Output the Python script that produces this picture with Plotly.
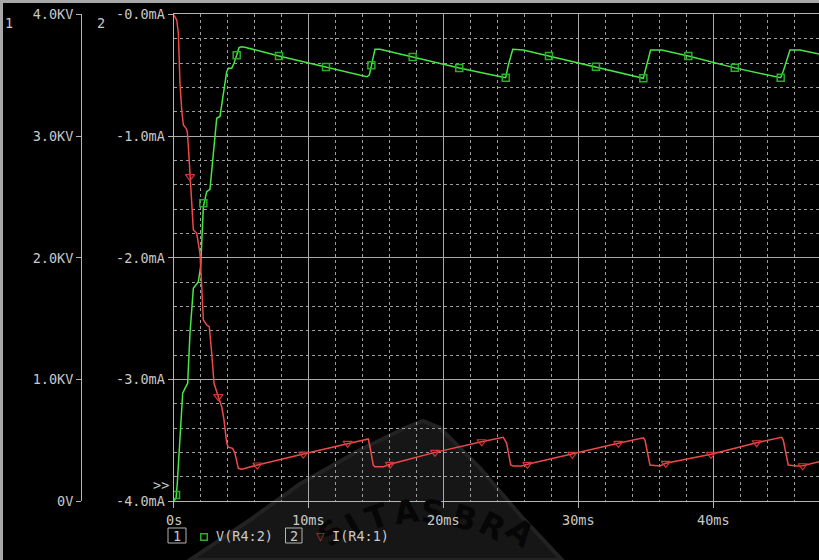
import plotly.graph_objects as go

W, H = 819, 560

# ---------------- data ----------------
# V(R4:2): time in ms, voltage in kV
v_time = [0.00, 0.19, 0.28, 0.48, 0.68, 0.85, 1.05, 1.22, 1.47, 1.84, 2.01, 2.21, 2.46, 2.70,
          2.95, 3.20, 3.44, 3.69, 3.81, 3.94, 4.06, 4.31, 4.48, 4.68, 4.85, 5.05, 5.29,
          7.81, 11.29, 14.31, 14.50, 14.65, 14.92, 15.29,
          17.71, 21.16, 24.42, 24.60, 24.79, 25.12, 25.90,
          27.80, 31.28, 34.79, 34.91, 35.33, 36.15,
          38.12, 41.56, 44.96, 45.15, 45.65, 46.39, 47.80]
v_kv = [0.000, 0.025, 0.148, 0.559, 0.887, 0.928, 0.969, 1.380, 1.749, 1.804, 1.927, 2.420, 2.543, 2.563,
        2.885, 3.146, 3.161, 3.323, 3.433, 3.529, 3.556, 3.556, 3.598, 3.663, 3.726, 3.734, 3.729,
        3.658, 3.568, 3.487, 3.501, 3.581, 3.713, 3.713,
        3.649, 3.559, 3.483, 3.479, 3.582, 3.713, 3.707,
        3.658, 3.570, 3.474, 3.528, 3.707, 3.707,
        3.658, 3.560, 3.479, 3.533, 3.707, 3.707, 3.674]

v_mark_time = [0.19, 2.21, 4.68, 7.81, 11.29, 14.65, 17.71, 21.16, 24.60, 27.80, 31.28, 34.79,
               38.12, 41.56, 44.96]
v_mark_kv = [0.052, 2.448, 3.663, 3.658, 3.568, 3.581, 3.649, 3.559, 3.479, 3.658, 3.570, 3.474,
             3.658, 3.560, 3.479]

# I(R4:1): time in ms, current in mA
i_time = [0.00, 0.24, 0.36, 0.48, 0.61, 0.73, 0.93, 1.02, 1.10, 1.22, 1.35, 1.47, 1.72, 1.96,
          2.09, 2.21, 2.46, 2.65, 2.83, 3.00, 3.32, 3.57, 3.74, 3.94, 4.06, 4.38, 4.55, 4.80, 5.05,
          6.21, 9.61, 12.90, 14.42, 14.55, 14.79, 14.92, 15.54,
          16.03, 19.36, 22.82, 24.42, 24.67, 24.97, 25.16, 25.78,
          26.20, 29.53, 32.94, 34.79, 34.91, 35.28, 36.02,
          36.45, 39.80, 43.18, 45.03, 45.15, 45.52, 46.15, 46.59, 47.80]
i_ma = [0.000, -0.047, -0.156, -0.567, -0.786, -0.909, -0.936, -0.964, -1.087, -1.334, -1.525,
        -1.772, -1.799, -1.963, -2.238, -2.511, -2.552, -2.566, -2.784, -3.031, -3.141, -3.223,
        -3.332, -3.524, -3.556, -3.565, -3.606, -3.729, -3.737,
        -3.702, -3.612, -3.524, -3.488, -3.552, -3.702, -3.716, -3.716,
        -3.696, -3.598, -3.511, -3.474, -3.524, -3.702, -3.710, -3.710,
        -3.696, -3.614, -3.524, -3.478, -3.497, -3.702, -3.710,
        -3.688, -3.614, -3.519, -3.474, -3.497, -3.702, -3.710, -3.708, -3.675]

i_mark_time = [1.22, 3.32, 6.21, 9.61, 12.90, 16.03, 19.36, 22.82, 26.20, 29.53, 32.94, 36.45,
               39.80, 43.18, 46.59]
i_mark_ma = [-1.334, -3.141, -3.702, -3.612, -3.524, -3.696, -3.598, -3.511, -3.696, -3.614,
             -3.524, -3.688, -3.614, -3.519, -3.708]

x_ticks = [0, 10, 20, 30, 40]
x_tick_text = ["0s", "10ms", "20ms", "30ms", "40ms"]
v_ticks = [0, 1, 2, 3, 4]
v_tick_text = ["0V", "1.0KV", "2.0KV", "3.0KV", "4.0KV"]
i_ticks = [-4, -3, -2, -1, 0]
i_tick_text = ["-4.0mA", "-3.0mA", "-2.0mA", "-1.0mA", "-0.0mA"]

# ---------------- styling ----------------
BG = "#000000"
TXT = "#c8c8c8"
AXIS = "#b4b4b4"
GRID = "#a8a8a8"
MINOR = "#9c9c9c"
GREEN = "#45e845"
GREEN_MK = "#25b025"
RED = "#f04848"
RED_MK = "#d03636"
FONT = dict(family="DejaVu Sans Mono", size=13.5, color=TXT)


def px(x):
    return x / W


def py(y):
    return 1 - y / H


PLOT_LEFT, PLOT_TOP, PLOT_BOTTOM = 173.5, 14.3, 501.3

fig = go.Figure()

fig.add_trace(go.Scatter(x=v_time, y=v_kv, mode="lines", yaxis="y",
                         line=dict(color=GREEN, width=1.5), hoverinfo="skip"))
fig.add_trace(go.Scatter(x=v_mark_time, y=v_mark_kv, mode="markers", yaxis="y",
                         marker=dict(symbol="square-open", size=7, color=GREEN_MK,
                                     line=dict(width=1.5)), hoverinfo="skip"))
fig.add_trace(go.Scatter(x=i_time, y=i_ma, mode="lines", yaxis="y2",
                         line=dict(color=RED, width=1.5), hoverinfo="skip"))
fig.add_trace(go.Scatter(x=i_mark_time, y=i_mark_ma, mode="markers", yaxis="y2",
                         marker=dict(symbol="triangle-down-open", size=8, color=RED_MK,
                                     line=dict(width=1.2)), hoverinfo="skip"))

shapes = []


def path_from(points):
    return "M " + " L ".join(f"{px(x):.5f},{py(y):.5f}" for x, y in points) + " Z"


# faint logo watermark behind the grid
wm_outline = [(190, 560), (250, 520), (300, 484), (360, 450), (405, 428), (423, 421),
              (440, 428), (480, 468), (520, 515), (562, 560)]
shapes.append(dict(type="path", path=path_from(wm_outline), xref="paper", yref="paper",
                   fillcolor="#161616", line=dict(color="#222222", width=4), layer="below"))

# window frame (left and top)
shapes.append(dict(type="rect", xref="paper", yref="paper", x0=0, x1=px(3), y0=0, y1=1,
                   fillcolor="#a8a8a8", line=dict(width=0), layer="above"))
shapes.append(dict(type="rect", xref="paper", yref="paper", x0=0, x1=1, y0=py(3), y1=1,
                   fillcolor="#a8a8a8", line=dict(width=0), layer="above"))

# legend number boxes
shapes.append(dict(type="rect", xref="paper", yref="paper", x0=px(168), x1=px(186),
                   y0=py(543), y1=py(528), line=dict(color=AXIS, width=1)))
shapes.append(dict(type="rect", xref="paper", yref="paper", x0=px(285.5), x1=px(302),
                   y0=py(543), y1=py(528), line=dict(color=AXIS, width=1)))

annotations = []

# watermark lettering along an arc
for ch, x, y, ang in [("S", 331, 533, -40), ("I", 353, 525, -30), ("T", 377, 517, -20),
                      ("A", 406, 512, -8), ("S", 432, 512, 5), ("B", 464, 518, 18),
                      ("R", 492, 526, 28), ("A", 520, 532, 38)]:
    annotations.append(dict(text=ch, x=px(x), y=py(y), xref="paper", yref="paper",
                            showarrow=False, textangle=ang, xanchor="center", yanchor="middle",
                            font=dict(family="DejaVu Sans", size=32, color="#060606",
                                      weight="bold")))


def label(text, x, y, xanchor="center", font=FONT):
    annotations.append(dict(text=text, x=px(x), y=py(y), xref="paper", yref="paper",
                            showarrow=False, xanchor=xanchor, yanchor="middle", font=font))


# time-axis labels, placed on the x scale and kept above the watermark
for val, txt in zip(x_ticks, x_tick_text):
    annotations.append(dict(text=txt, x=val, xref="x", y=py(520), yref="paper",
                            showarrow=False, xanchor="center", yanchor="middle", font=FONT))

label("1", 8.5, 23)
label("2", 101, 23)
label(">>", 160.5, 485)
label("1", 177, 535.5)
label("V(R4:2)", 214, 536, "left")
label("2", 293.8, 535.5)
label("I(R4:1)", 330, 536, "left")

# legend symbols, kept on top of the watermark lettering
annotations.append(dict(text=" ", x=px(203.5), y=py(536.5), xref="paper", yref="paper",
                        showarrow=False, xanchor="center", yanchor="middle",
                        width=5, height=5, borderpad=0, borderwidth=1.5,
                        bordercolor=GREEN_MK, font=dict(size=4)))
label("▽", 320, 536, "center",
      font=dict(family="DejaVu Sans", size=11, color=RED_MK))

fig.update_layout(
    width=W, height=H, autosize=False,
    margin=dict(l=0, r=0, t=0, b=0, pad=0, autoexpand=False),
    paper_bgcolor=BG, plot_bgcolor=BG,
    showlegend=False,
    font=FONT,
    xaxis=dict(
        domain=[px(PLOT_LEFT), 1], range=[0, (W - PLOT_LEFT) / 13.505],
        tickmode="array", tickvals=x_ticks, ticktext=x_tick_text, showticklabels=False,
        showgrid=True, gridcolor=GRID, gridwidth=1,
        minor=dict(tickmode="linear", tick0=0, dtick=2, showgrid=True,
                   gridcolor=MINOR, griddash="3px,3px", gridwidth=1, ticks=""),
        showline=True, linecolor=AXIS, linewidth=1, mirror=True,
        ticks="outside", ticklen=6, tickcolor=AXIS, tickwidth=1,
        zeroline=False, tickfont=FONT, fixedrange=True,
    ),
    yaxis=dict(
        domain=[py(PLOT_BOTTOM), py(PLOT_TOP)], range=[0, 4],
        anchor="free", position=px(81), side="left",
        tickmode="array", tickvals=v_ticks, ticktext=v_tick_text,
        showgrid=False, zeroline=False,
        showline=True, linecolor=AXIS, linewidth=1,
        ticks="outside", ticklen=5, tickcolor=AXIS, tickwidth=1,
        tickfont=FONT, fixedrange=True,
    ),
    yaxis2=dict(
        overlaying="y", anchor="x", side="left", range=[-4, 0],
        tickmode="array", tickvals=i_ticks, ticktext=i_tick_text,
        showgrid=True, gridcolor=GRID, gridwidth=1,
        minor=dict(tickmode="linear", tick0=0, dtick=0.2, showgrid=True,
                   gridcolor=MINOR, griddash="3px,3px", gridwidth=1, ticks=""),
        zeroline=False,
        showline=True, linecolor=AXIS, linewidth=1,
        ticks="outside", ticklen=5, tickcolor=AXIS, tickwidth=1,
        tickfont=FONT, fixedrange=True,
    ),
    shapes=shapes,
    annotations=annotations,
)

page_css = ("document.documentElement.style.margin='0';"
            "document.body.style.margin='0';"
            "document.body.style.padding='0';"
            "document.body.style.overflow='hidden';"
            "document.body.style.background='#000';")

fig.write_html("out.html", config={"displayModeBar": False, "responsive": False},
               post_script=page_css)
